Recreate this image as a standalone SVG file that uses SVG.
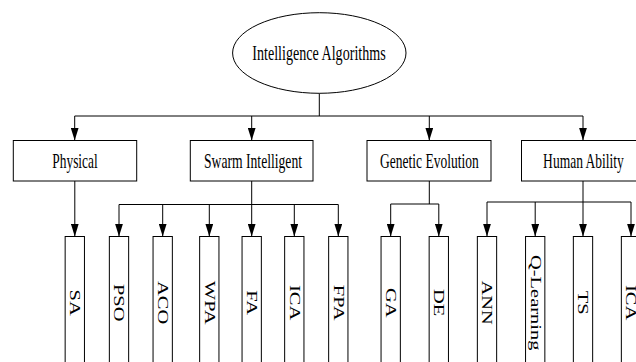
<svg xmlns="http://www.w3.org/2000/svg" width="636" height="362" viewBox="0 0 636 362">
  <style>
    .shape { fill: #ffffff; stroke: #000000; stroke-width: 1; }
    .lbl { font-family: "Liberation Serif", "Times New Roman", serif; font-size: 20px; fill: #000000; text-anchor: middle; }
    .leaf { font-family: "Liberation Serif", "Times New Roman", serif; font-size: 20.5px; fill: #000000; text-anchor: middle; }
    .conn { fill: none; stroke: #000000; stroke-width: 1; }
    .arr { marker-end: url(#ah); }
  </style>
  <defs>
    <marker id="ah" viewBox="0 0 13 8" refX="13" refY="4" markerWidth="13" markerHeight="8" markerUnits="userSpaceOnUse" orient="auto">
      <path d="M0,0 L13,4 L0,8 z" fill="#000000"/>
    </marker>
  </defs>
  <rect width="636" height="362" fill="#ffffff"/>

  <g id="connectors">
    <path class="conn" d="M319.3,93.3 V116 M74.7,116 H583"/>
    <path class="conn arr" d="M74.7,116 V140.5"/>
    <path class="conn arr" d="M251.7,116 V140.5"/>
    <path class="conn arr" d="M429.3,116 V140.5"/>
    <path class="conn arr" d="M583,116 V140.5"/>

    <path class="conn arr" d="M74.8,181 V236.5"/>

    <path class="conn" d="M119,204.5 H338.3"/>
    <path class="conn arr" d="M251.7,181 V236.5"/>
    <path class="conn arr" d="M119,204.5 V236.5"/>
    <path class="conn arr" d="M162.7,204.5 V236.5"/>
    <path class="conn arr" d="M209.3,204.5 V236.5"/>
    <path class="conn arr" d="M294.3,204.5 V236.5"/>
    <path class="conn arr" d="M338.3,204.5 V236.5"/>

    <path class="conn" d="M429.3,181 V204 M390.7,204 H438.8"/>
    <path class="conn arr" d="M390.7,204 V236.5"/>
    <path class="conn arr" d="M438.8,204 V236.5"/>

    <path class="conn" d="M487,202 H631"/>
    <path class="conn arr" d="M583,181 V236.5"/>
    <path class="conn arr" d="M487,202 V236.5"/>
    <path class="conn arr" d="M535.2,202 V236.5"/>
    <path class="conn arr" d="M631,202 V236.5"/>
  </g>

  <g id="root">
    <ellipse class="shape" cx="319.3" cy="53" rx="86.7" ry="40.3"/>
    <text class="lbl" transform="translate(319,59.5) scale(0.7,1)" textLength="190.6" lengthAdjust="spacingAndGlyphs">Intelligence Algorithms</text>
  </g>

  <g id="physical">
    <rect class="shape" x="13.3" y="140.5" width="123.4" height="40.5"/>
    <text class="lbl" transform="translate(75,168) scale(0.7,1)" textLength="64.9" lengthAdjust="spacingAndGlyphs">Physical</text>
  </g>
  <g id="swarm">
    <rect class="shape" x="190.3" y="140.5" width="122.7" height="40.5"/>
    <text class="lbl" transform="translate(253,168) scale(0.7,1)" textLength="140" lengthAdjust="spacingAndGlyphs">Swarm Intelligent</text>
  </g>
  <g id="genetic">
    <rect class="shape" x="367" y="140.5" width="124" height="40.5"/>
    <text class="lbl" transform="translate(429.4,168) scale(0.7,1)" textLength="140.9" lengthAdjust="spacingAndGlyphs">Genetic Evolution</text>
  </g>
  <g id="human">
    <rect class="shape" x="521.5" y="140.5" width="123.5" height="40.5"/>
    <text class="lbl" transform="translate(583.5,168) scale(0.7,1)" textLength="115.4" lengthAdjust="spacingAndGlyphs">Human Ability</text>
  </g>

  <g id="leaf-sa">
    <rect class="shape" x="65.15" y="236.5" width="19.3" height="140"/>
    <text class="leaf" transform="translate(74.8,302.7) scale(0.7,1) rotate(90)" x="0" y="6.5">SA</text>
  </g>
  <g id="leaf-pso">
    <rect class="shape" x="109.35" y="236.5" width="19.3" height="140"/>
    <text class="leaf" transform="translate(119,302.7) scale(0.7,1) rotate(90)" x="0" y="6.5">PSO</text>
  </g>
  <g id="leaf-aco">
    <rect class="shape" x="153.05" y="236.5" width="19.3" height="140"/>
    <text class="leaf" transform="translate(162.7,302.7) scale(0.7,1) rotate(90)" x="0" y="6.5">ACO</text>
  </g>
  <g id="leaf-wpa">
    <rect class="shape" x="199.65" y="236.5" width="19.3" height="140"/>
    <text class="leaf" transform="translate(209.3,302.7) scale(0.7,1) rotate(90)" x="0" y="6.5">WPA</text>
  </g>
  <g id="leaf-fa">
    <rect class="shape" x="242.05" y="236.5" width="19.3" height="140"/>
    <text class="leaf" transform="translate(251.7,302.7) scale(0.7,1) rotate(90)" x="0" y="6.5">FA</text>
  </g>
  <g id="leaf-ica1">
    <rect class="shape" x="284.65" y="236.5" width="19.3" height="140"/>
    <text class="leaf" transform="translate(294.3,302.7) scale(0.7,1) rotate(90)" x="0" y="6.5">ICA</text>
  </g>
  <g id="leaf-fpa">
    <rect class="shape" x="328.65" y="236.5" width="19.3" height="140"/>
    <text class="leaf" transform="translate(338.3,302.7) scale(0.7,1) rotate(90)" x="0" y="6.5">FPA</text>
  </g>
  <g id="leaf-ga">
    <rect class="shape" x="381.05" y="236.5" width="19.3" height="140"/>
    <text class="leaf" transform="translate(390.7,302.7) scale(0.7,1) rotate(90)" x="0" y="6.5">GA</text>
  </g>
  <g id="leaf-de">
    <rect class="shape" x="429.15" y="236.5" width="19.3" height="140"/>
    <text class="leaf" transform="translate(438.8,302.7) scale(0.7,1) rotate(90)" x="0" y="6.5">DE</text>
  </g>
  <g id="leaf-ann">
    <rect class="shape" x="477.35" y="236.5" width="19.3" height="140"/>
    <text class="leaf" transform="translate(487,302.7) scale(0.7,1) rotate(90)" x="0" y="6.5">ANN</text>
  </g>
  <g id="leaf-qlearning">
    <rect class="shape" x="525.55" y="236.5" width="19.3" height="140"/>
    <text class="leaf" transform="translate(535.2,302.7) scale(0.7,1) rotate(90)" x="0" y="6.5">Q-Learning</text>
  </g>
  <g id="leaf-ts">
    <rect class="shape" x="573.35" y="236.5" width="19.3" height="140"/>
    <text class="leaf" transform="translate(583,302.7) scale(0.7,1) rotate(90)" x="0" y="6.5">TS</text>
  </g>
  <g id="leaf-ica2">
    <rect class="shape" x="621.35" y="236.5" width="19.3" height="140"/>
    <text class="leaf" transform="translate(631,302.7) scale(0.7,1) rotate(90)" x="0" y="6.5">ICA</text>
  </g>
</svg>
